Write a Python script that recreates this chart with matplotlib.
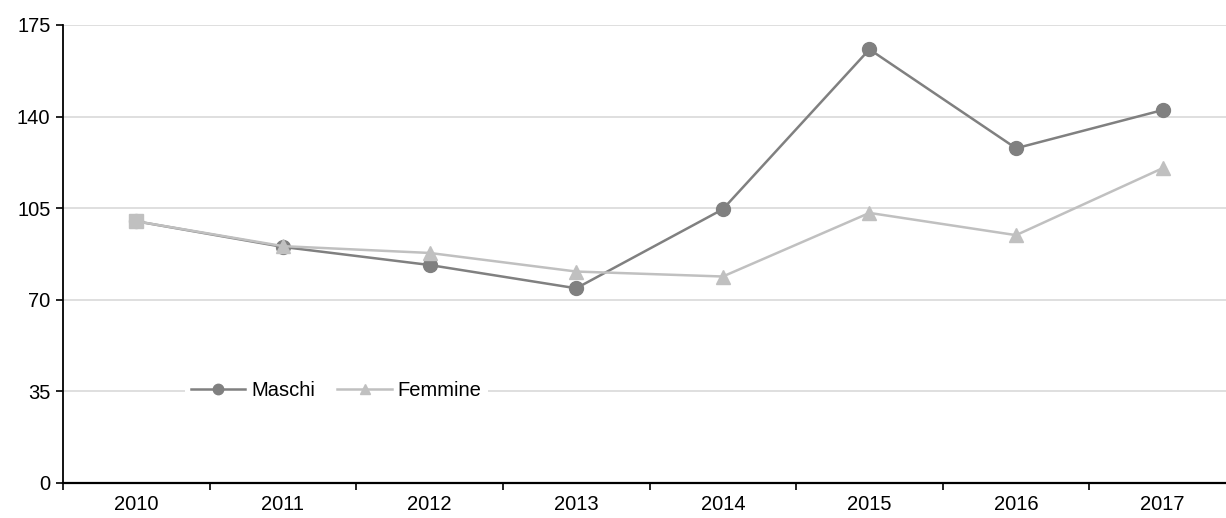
import matplotlib
matplotlib.use("Agg")
import matplotlib.pyplot as plt

plt.rcParams['font.family'] = ['Liberation Sans', 'DejaVu Sans']

anni = ['2010', '2011', '2012', '2013', '2014', '2015', '2016', '2017']
maschi = [100, 90.2, 83.3, 74.4, 104.6, 165.7, 127.9, 142.5]
femmine = [100, 90.5, 87.9, 80.8, 78.9, 103.2, 94.7, 120.3]
y_ticks = [0, 35, 70, 105, 140, 175]

col_m = '#808080'
col_f = '#c0c0c0'
fs = 14.5

fig = plt.figure(figsize=(12.26, 5.18), dpi=100)
# axes run past the right edge, like the original
ax = fig.add_axes([63 / 1226, 35 / 518, 1173 / 1226, 458 / 518])

x = list(range(len(anni)))
ax.plot(x, maschi, color=col_m, lw=1.8, marker='o', ms=10, mec=col_m,
        mfc=col_m, label='Maschi', zorder=3)
ax.plot(x, femmine, color=col_f, lw=1.8, marker='^', ms=10, mec=col_f,
        mfc=col_f, label='Femmine', zorder=4, markevery=list(range(1, len(anni))))
# first point of the women series is drawn as a square
ax.plot(x[:1], femmine[:1], color=col_f, marker='s', ms=10.5, ls='none', zorder=5)

ax.set_xlim(-0.5, len(anni) - 0.5)
ax.set_ylim(0, 175)
ax.set_yticks(y_ticks)
ax.set_yticklabels([str(v) for v in y_ticks])
ax.set_xticks([i + 0.5 for i in range(-1, len(anni))])
ax.set_xticklabels([])
ax.set_xticks(x, minor=True)
ax.set_xticklabels(anni, minor=True)
ax.tick_params(axis='x', which='major', length=5, width=1.2, direction='out')
ax.tick_params(axis='x', which='minor', length=0, pad=9, labelsize=fs)
ax.tick_params(axis='y', length=5, width=1.2, direction='out', pad=4, labelsize=fs)

ax.grid(axis='y', color='#d9d9d9', lw=1.2)
ax.set_axisbelow(True)
for s in ['top', 'right']:
    ax.spines[s].set_visible(False)
ax.spines['left'].set_linewidth(1.3)
ax.spines['bottom'].set_linewidth(1.6)

leg = ax.legend(loc='center', bbox_to_anchor=(0.233, 0.201), ncol=2, frameon=True,
                fontsize=fs, handlelength=2.7, handletextpad=0.3, columnspacing=1.1,
                borderpad=0.3, borderaxespad=0)
leg.get_frame().set_facecolor('white')
leg.get_frame().set_edgecolor('none')
leg.get_frame().set_alpha(1)
for h in leg.legend_handles:
    h.set_markersize(7.5)

fig.savefig('out.png', dpi=100)
